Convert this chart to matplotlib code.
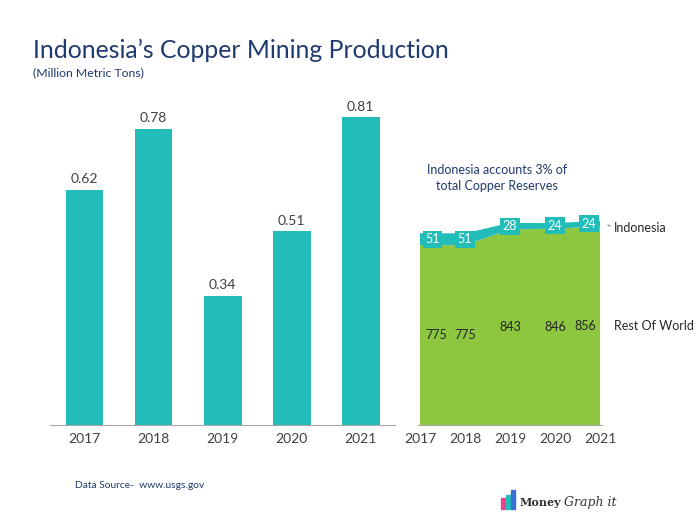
import matplotlib.pyplot as plt
from matplotlib.patches import Rectangle

## data
years = ['2017', '2018', '2019', '2020', '2021']
production = [0.62, 0.78, 0.34, 0.51, 0.81]

res_years = [2017, 2018, 2019, 2020, 2021]
rest_of_world = [775, 775, 843, 846, 856]
indonesia = [51, 51, 28, 24, 24]

teal = '#22bcb9'
green = '#8dc63f'
navy = '#1f3a6e'
grey = '#404040'

plt.rcParams['font.family'] = ['Lato', 'DejaVu Sans']

fig = plt.figure(figsize=(7, 5.25), dpi=100)

## left: production bars
ax = fig.add_axes([0.0714, 0.1905, 0.493, 0.651])
xs = range(len(years))
bars = ax.bar(xs, production, width=0.55, color=teal)
for x, v in zip(xs, production):
    ax.text(x, v + 0.012, '%.2f' % v, ha='center', va='bottom', fontsize=10, color=grey)
ax.set_xlim(-0.5, 4.5)
ax.set_ylim(0, 0.9)
ax.set_xticks(list(xs))
ax.set_xticklabels(years, fontsize=10, color=grey)
ax.tick_params(axis='x', length=0, pad=6)
ax.set_yticks([])
for s in ['top', 'right', 'left']:
    ax.spines[s].set_visible(False)
ax.spines['bottom'].set_color('#a6a6a6')

## right: reserves stacked area
ax2 = fig.add_axes([0.5968, 0.1905, 0.2636, 0.442])
ax2.stackplot(res_years, rest_of_world, indonesia, colors=[green, teal])
ax2.set_xlim(2016.95, 2021.05)
ax2.set_ylim(0, 1000)
ax2.set_xticks(res_years)
ax2.set_xticklabels([str(y) for y in res_years], fontsize=10, color=grey)
ax2.tick_params(axis='x', length=0, pad=6)
ax2.set_yticks([])
for s in ['top', 'right', 'left']:
    ax2.spines[s].set_visible(False)
ax2.spines['bottom'].set_color('#a6a6a6')

n = len(res_years)
for i, (y, r, ind) in enumerate(zip(res_years, rest_of_world, indonesia)):
    ha = 'left' if i == 0 else ('right' if i == n - 1 else 'center')
    dx = 0.12 if i == 0 else (-0.08 if i == n - 1 else 0)
    ax2.text(y + dx, r / 2, str(r), ha=ha, va='center', fontsize=9, color='#262626')
    ax2.text(y + dx, r + ind / 2, str(ind), ha=ha, va='center', fontsize=9, color='white',
             bbox=dict(boxstyle='square,pad=0.2', fc=teal, ec='none'))

ax2.annotate('', xy=(2021.12, rest_of_world[-1] + 12),
             xytext=(2021.28, rest_of_world[-1] - 5), annotation_clip=False,
             arrowprops=dict(arrowstyle='-', color='#7f7f7f', lw=0.8))
ax2.text(2021.3, rest_of_world[-1] - 7, 'Indonesia', fontsize=9, color='#262626',
         va='center', ha='left', clip_on=False)
ax2.text(2021.3, rest_of_world[-1] / 2, 'Rest Of World', fontsize=9, color='#262626',
         va='center', ha='left', clip_on=False)

fig.text(0.71, 0.661, 'Indonesia accounts 3% of\ntotal Copper Reserves', ha='center',
         va='center', fontsize=9, color=navy, linespacing=1.45)

## titles
fig.text(0.047, 0.905, 'Indonesia\u2019s Copper Mining Production', fontsize=17.8, color=navy,
         va='center')
fig.text(0.047, 0.862, '(Million Metric Tons)', fontsize=8.8, color=navy, va='center')

fig.text(0.107, 0.076, 'Data Source-  www.usgs.gov', fontsize=7.4, color=navy, va='center')

## logo
for i, (c, h) in enumerate([('#e8458b', 0.022), ('#22bcb9', 0.028), ('#3a6fd8', 0.036)]):
    fig.patches.append(Rectangle((0.716 + i * 0.007, 0.03), 0.005, h, color=c,
                                 transform=fig.transFigure, figure=fig))
fig.text(0.742, 0.043, 'Money', fontsize=8, fontweight='bold', family='DejaVu Serif',
         color='#333333', va='center')
fig.text(0.806, 0.043, 'Graph it', fontsize=9, style='italic', family='DejaVu Serif',
         color='#333333', va='center')

fig.savefig('out.png', dpi=100)
